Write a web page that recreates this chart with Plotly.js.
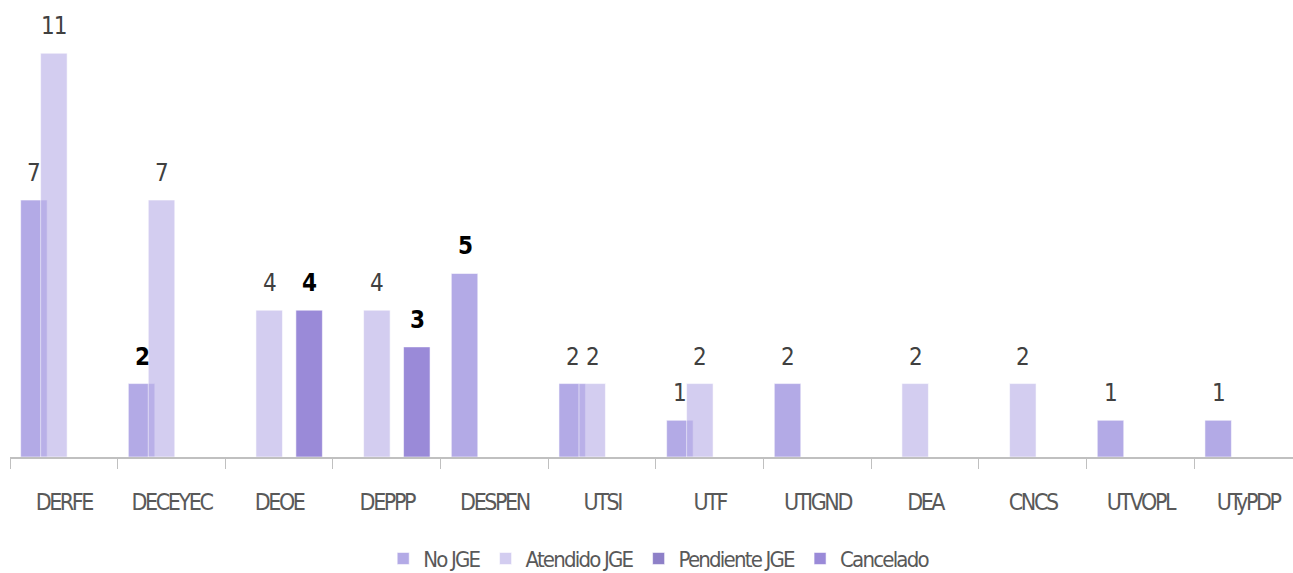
<!DOCTYPE html>
<html>
<head>
<meta charset="utf-8">
<script src="https://cdn.plot.ly/plotly-3.0.1.min.js"></script>
<style>
  html, body { margin: 0; padding: 0; background: #ffffff; }
  #chart { width: 1293px; height: 573px; }
  .xtick text { letter-spacing: -2.4px; }
  .legendtext { letter-spacing: -1.8px; }
  .annotation-text { letter-spacing: -1px; }
</style>
</head>
<body>
<div id="chart"></div>
<script>
// ---- data ----
const categories = ['DERFE', 'DECEYEC', 'DEOE', 'DEPPP', 'DESPEN', 'UTSI', 'UTF', 'UTIGND', 'DEA', 'CNCS', 'UTVOPL', 'UTyPDP'];
const seriesNames = ['No JGE', 'Atendido JGE', 'Pendiente JGE', 'Cancelado'];
const noJGE     = [7, 2, null, null, 5, 2, 1, 2, null, null, 1, 1];
const atendido  = [11, 7, 4, 4, null, 2, 2, null, 2, 2, null, null];
const pendiente = [null, null, null, null, null, null, null, null, null, null, null, null];
const cancelado = [null, null, 4, 3, null, null, null, null, null, null, null, null];

// ---- styles ----
const FONT = '"DejaVu Sans Condensed", "Liberation Sans Narrow", "Arial Narrow", Arial, sans-serif';
const colors = ['#b3aae6', 'rgba(188,179,232,0.66)', '#8e80c8', '#9a8ad8'];
const barWidth = 0.246;           // in category units
const firstOffset = -0.401;       // left edge of first series bar
const slotStep = 0.1855;          // spacing between series bars
const pxPerCat = 1283 / 11.917;   // plot width / visible categories
// labels drawn bold & black (series index -> category names)
const boldLabels = { 0: ['DECEYEC', 'DESPEN'], 3: ['DEOE', 'DEPPP'] };

const seriesValues = [noJGE, atendido, pendiente, cancelado];

const traces = seriesValues.map((vals, s) => ({
  type: 'bar',
  name: seriesNames[s],
  x: categories,
  y: vals,
  offset: firstOffset + s * slotStep,
  width: barWidth,
  marker: { color: colors[s], line: { width: 1, color: 'rgba(255,255,255,0.55)' } },
  hoverinfo: 'skip'
}));

const annotations = [];
seriesValues.forEach((vals, s) => {
  const xs = (firstOffset + s * slotStep + barWidth / 2) * pxPerCat;
  vals.forEach((v, i) => {
    if (v === null || v === undefined) return;
    const bold = (boldLabels[s] || []).includes(categories[i]);
    annotations.push({
      x: categories[i], y: v, xref: 'x', yref: 'y',
      text: bold ? '<b>' + v + '</b>' : String(v),
      showarrow: false, xanchor: 'center', yanchor: 'middle',
      xshift: xs, yshift: 27,
      font: { family: FONT, size: 24, color: bold ? '#000000' : '#404040' }
    });
  });
});

const layout = {
  width: 1293, height: 573,
  margin: { l: 10, r: 0, t: 0, b: 116, pad: 0, autoexpand: false },
  paper_bgcolor: '#ffffff', plot_bgcolor: '#ffffff',
  barmode: 'overlay',
  showlegend: true,
  legend: {
    orientation: 'h', xref: 'paper', x: 0.506, xanchor: 'center',
    yref: 'container', y: 0.025, yanchor: 'middle',
    font: { family: FONT, size: 22, color: '#595959' },
    itemwidth: 30, traceorder: 'normal', bgcolor: 'rgba(0,0,0,0)'
  },
  xaxis: {
    type: 'category', range: [-0.5, 11.417],
    showline: true, linecolor: '#c0c0c0', linewidth: 2,
    ticks: 'outside', tickson: 'boundaries', ticklen: 10, tickwidth: 1, tickcolor: '#c0c0c0',
    showgrid: false, zeroline: false,
    tickfont: { family: FONT, size: 23, color: '#595959' },
    ticklabelstandoff: 23,
    fixedrange: true
  },
  yaxis: {
    range: [0, 12.45], visible: false, showgrid: false, zeroline: false, fixedrange: true
  },
  annotations: annotations
};

Plotly.newPlot('chart', traces, layout, { displayModeBar: false, staticPlot: true });
</script>
</body>
</html>
